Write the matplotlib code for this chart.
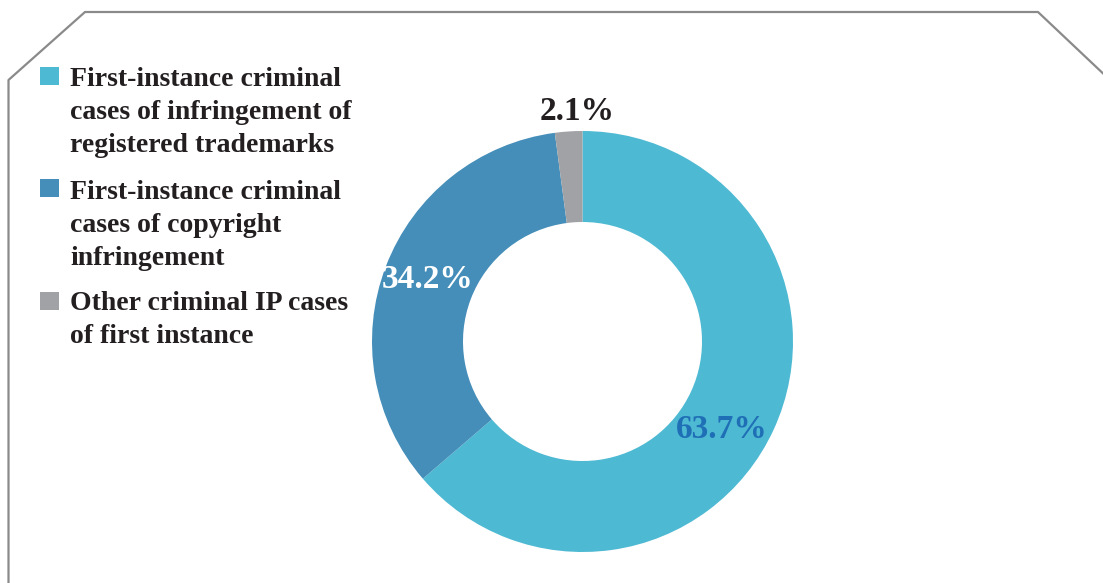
import matplotlib.pyplot as plt
from matplotlib.patches import Rectangle
from matplotlib.lines import Line2D

# Shares of first-instance criminal IP cases
categories = [
    ["First-instance criminal", "cases of infringement of", "registered trademarks"],
    ["First-instance criminal", "cases of copyright", "infringement"],
    ["Other criminal IP cases", "of first instance"],
]
shares = [63.7, 34.2, 2.1]
colors = ["#4EB9D3", "#448EB9", "#A1A2A6"]
label_colors = ["#1F6FB6", "#FFFFFF", "#231F20"]

W, H = 1103, 583
fig = plt.figure(figsize=(W / 100, H / 100), dpi=100)
fig.patch.set_facecolor("white")

serif = ["Liberation Serif", "DejaVu Serif"]

# Background axes in pixel coordinates (y down)
bg = fig.add_axes([0, 0, 1, 1])
bg.set_xlim(0, W)
bg.set_ylim(H, 0)
bg.axis("off")

# Frame with cut top corners
frame_x = [8.5, 8.5, 85, 1038, 1110]
frame_y = [590, 80, 12, 12, 80]
bg.add_line(Line2D(frame_x, frame_y, color="#8A8A8A", lw=1.6))

# Legend: swatch top and baseline of each text line
swatch_tops = [66.5, 179, 292]
line_baselines = [[86, 119, 152], [199, 232, 265], [310, 343]]
for top, col, lines, bases in zip(swatch_tops, colors, categories, line_baselines):
    bg.add_patch(Rectangle((40, top), 18.5, 18, facecolor=col, edgecolor="none"))
    for text, b in zip(lines, bases):
        bg.text(70, b, text, ha="left", va="baseline", fontsize=20,
                fontweight="bold", family=serif, color="#231F20")

# Donut
cx, cy, r_out, r_in = 582.5, 341.5, 210.5, 119.5
ax = fig.add_axes([(cx - r_out) / W, (H - cy - r_out) / H, 2 * r_out / W, 2 * r_out / H])
wedges, _ = ax.pie(shares, colors=colors, startangle=90, counterclock=False,
                   radius=1, wedgeprops=dict(width=1 - r_in / r_out, edgecolor="none"))
ax.set_xlim(-1, 1)
ax.set_ylim(-1, 1)
ax.axis("off")

# Value labels, drawn above the donut
label_pos = [(722, 430), (428, 280), (577, 111)]
for (x, y), v, c in zip(label_pos, shares, label_colors):
    fig.text(x / W, 1 - y / H, f"{v:.1f}%", ha="center", va="center", fontsize=24,
             fontweight="bold", family=serif, color=c, zorder=10)

fig.savefig("out.png", dpi=100)
